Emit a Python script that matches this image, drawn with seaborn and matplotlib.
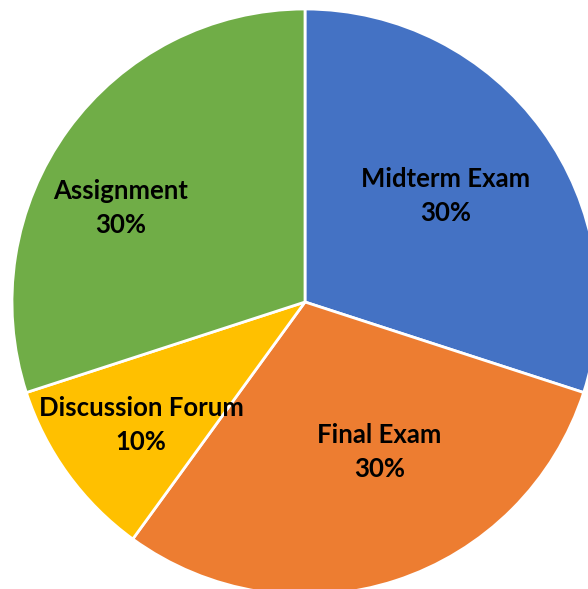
import matplotlib
matplotlib.use("Agg")
import matplotlib.pyplot as plt
import numpy as np
import seaborn as sns

sns.set_theme(style="white")
plt.rcParams['font.family'] = ['Lato', 'DejaVu Sans']

# grading breakdown
components = ["Midterm Exam", "Final Exam", "Discussion Forum", "Assignment"]
shares = [30, 30, 10, 30]
colors = ["#4472C4", "#ED7D31", "#FFC000", "#70AD47"]

# label anchors (radius, angle in degrees) picked to match the original layout
label_pos = [(0.60, 37), (0.57, -63.6), (0.70, -143), (0.705, 153)]

fig = plt.figure(figsize=(5.88, 5.89), dpi=100)
# pie centre at (305, 302) px, radius 293 px; chart is cropped right/bottom
cx, cy, r = 305, 302, 293
ax = fig.add_axes([(cx - r) / 588, (589 - cy - r) / 589, 2 * r / 588, 2 * r / 589])

wedges, _ = ax.pie(shares, colors=colors, startangle=90, counterclock=False,
                   radius=1.0, wedgeprops=dict(edgecolor="white", linewidth=2))
for w in wedges:
    w.set_clip_on(False)

total = sum(shares)
for name, val, (rad, ang) in zip(components, shares, label_pos):
    x = rad * np.cos(np.deg2rad(ang))
    y = rad * np.sin(np.deg2rad(ang))
    ax.text(x, y, f"{name}\n{val / total:.0%}", ha="center", va="center",
            fontsize=18.5, fontweight="bold", color="black", linespacing=1.5)

ax.set_xlim(-1, 1)
ax.set_ylim(-1, 1)
ax.set_aspect("equal")
ax.axis("off")

fig.savefig("out.png", dpi=100)
